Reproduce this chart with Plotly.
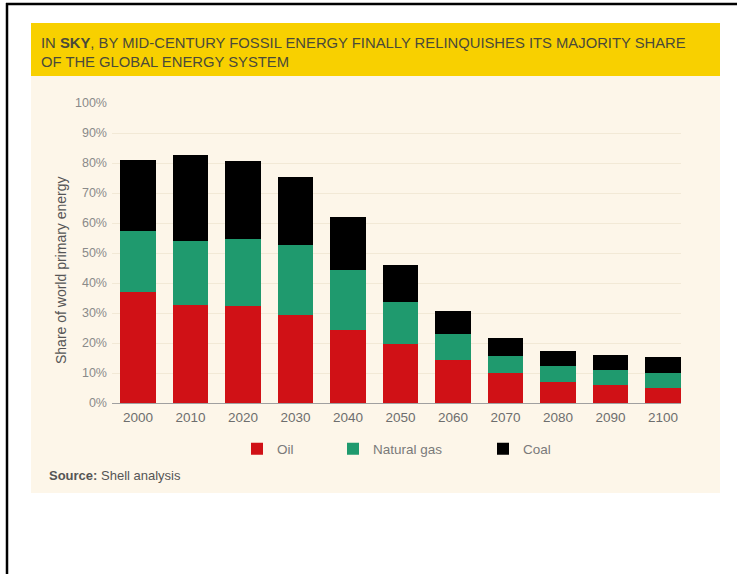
import plotly.graph_objects as go

years = ["2000", "2010", "2020", "2030", "2040", "2050", "2060", "2070", "2080", "2090", "2100"]
oil = [36.9, 32.7, 32.3, 29.3, 24.3, 19.6, 14.3, 10.1, 7.1, 5.9, 5.1]
natural_gas = [20.5, 21.3, 22.5, 23.3, 20.0, 14.1, 8.6, 5.7, 5.2, 5.0, 5.0]
coal = [23.5, 28.6, 25.9, 22.7, 17.7, 12.2, 7.9, 5.8, 5.1, 5.1, 5.1]
y_ticks = [0, 10, 20, 30, 40, 50, 60, 70, 80, 90, 100]
y_ticktext = [f"{v}%" for v in y_ticks]

W, H = 737, 574
L, R, T, B = 112, 681, 103, 403


def px(x):
    return (x - L) / (R - L)


def py(y):
    return (B - y) / (B - T)


fig = go.Figure()
fig.add_trace(go.Bar(name="Oil", x=years, y=oil, marker_color="#D01116", marker_line_width=0,
                     legend="legend", showlegend=True))
fig.add_trace(go.Bar(name="Natural gas", x=years, y=natural_gas, marker_color="#1F9A6E", marker_line_width=0,
                     legend="legend2", showlegend=True))
fig.add_trace(go.Bar(name="Coal", x=years, y=coal, marker_color="#000000", marker_line_width=0,
                     legend="legend3", showlegend=True))

shapes = [
    dict(type="rect", xref="paper", yref="paper", x0=px(31), x1=px(720), y0=py(493), y1=py(76),
         fillcolor="#FDF6E9", line_width=0, layer="below"),
    dict(type="rect", xref="paper", yref="paper", x0=px(31), x1=px(720), y0=py(76), y1=py(23),
         fillcolor="#F8D000", line_width=0, layer="below"),
    dict(type="line", xref="paper", yref="paper", x0=px(6), x1=px(737), y0=py(4), y1=py(4),
         line=dict(color="#000000", width=2.5)),
    dict(type="line", xref="paper", yref="paper", x0=px(7), x1=px(7), y0=py(3), y1=py(574),
         line=dict(color="#000000", width=2.5)),
]

FONT = "Liberation Sans, Arial, sans-serif"

annotations = [
    dict(xref="paper", yref="paper", x=px(39), y=py(52), xanchor="left", yanchor="middle", align="left",
         text="IN <b>SKY</b>, BY MID-CENTURY FOSSIL ENERGY FINALLY RELINQUISHES ITS MAJORITY SHARE<br>OF THE GLOBAL ENERGY SYSTEM",
         showarrow=False, font=dict(family=FONT, size=14.8, color="#4A4A3A")),
    dict(xref="paper", yref="paper", x=px(47), y=py(475), xanchor="left", yanchor="middle",
         text="<b>Source:</b> Shell analysis", showarrow=False,
         font=dict(family=FONT, size=13, color="#555555")),
    dict(xref="paper", yref="paper", x=px(61), y=py(270), xanchor="center", yanchor="middle",
         text="Share of world primary energy", textangle=-90, showarrow=False,
         font=dict(family=FONT, size=14, color="#555555")),
]


def leg(xpix):
    return dict(orientation="h", xref="paper", yref="paper", x=px(xpix), y=py(449), xanchor="left",
                yanchor="middle", bgcolor="rgba(0,0,0,0)", font=dict(size=13.5, color="#7A7A7A"),
                itemwidth=30)


fig.update_layout(
    width=W, height=H,
    margin=dict(l=L, r=W - R, t=T, b=H - B, pad=0),
    paper_bgcolor="#FFFFFF",
    plot_bgcolor="rgba(0,0,0,0)",
    barmode="stack",
    bargap=0.333,
    showlegend=True,
    shapes=shapes,
    annotations=annotations,
    font=dict(family=FONT, color="#777777"),
    legend=leg(237),
    legend2=leg(333),
    legend3=leg(483),
    xaxis=dict(type="category", range=[-0.495, 10.343], showgrid=False, showline=True,
               linecolor="#A0A0A0", linewidth=1, ticks="", tickfont=dict(size=13.5, color="#6E6E6E"),
               ticklabelstandoff=2),
    yaxis=dict(range=[0, 100], tickvals=y_ticks, ticktext=y_ticktext, showgrid=True,
               gridcolor="#F2E9D6", gridwidth=1, zeroline=False, showline=False,
               ticks="", ticklabelstandoff=4,
               tickfont=dict(size=12.5, color="#8A8A8A")),
)

fig.write_html("out.html", config={"displayModeBar": False},
               post_script="document.body.style.margin='0px';")
